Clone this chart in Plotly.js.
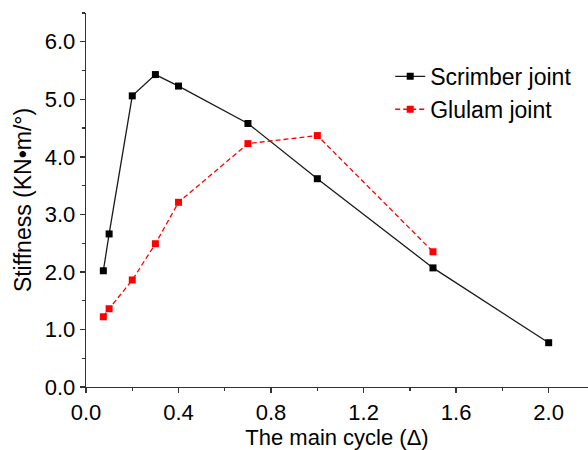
<!DOCTYPE html>
<html>
<head>
<meta charset="utf-8">
<script src="https://cdn.plot.ly/plotly-3.0.1.min.js"></script>
<style>html,body{margin:0;padding:0;background:#fff;}#chart{width:588px;height:450px;}</style>
</head>
<body>
<div id="chart"></div>
<script>
// Data
const cycle = [0.075, 0.1, 0.2, 0.3, 0.4, 0.7, 1.0, 1.5, 2.0];
const scrimberStiffness = [2.02, 2.66, 5.06, 5.43, 5.23, 4.58, 3.62, 2.07, 0.77];
const glulamCycle = [0.075, 0.1, 0.2, 0.3, 0.4, 0.7, 1.0, 1.5];
const glulamStiffness = [1.22, 1.36, 1.86, 2.49, 3.21, 4.23, 4.37, 2.35];
const seriesNames = ["Scrimber joint", "Glulam joint"];
const xTitle = "The main cycle (\u0394)";
const yTitle = "Stiffness (KN\u2022m/\u00b0)";

const font = "Liberation Sans, Arial, sans-serif";
const axisColor = "#333333";

const traces = [
  {
    x: cycle, y: scrimberStiffness, name: seriesNames[0],
    type: "scatter", mode: "lines+markers",
    line: {color: "#1a1a1a", width: 1.3},
    marker: {symbol: "square", size: 7, color: "#000000"}
  },
  {
    x: glulamCycle, y: glulamStiffness, name: seriesNames[1],
    type: "scatter", mode: "lines+markers",
    line: {color: "#ff0000", width: 1.3, dash: "5px,3px"},
    marker: {symbol: "square", size: 7, color: "#ff0000"}
  }
];

const layout = {
  width: 588, height: 450,
  margin: {l: 86, r: 0, t: 13, b: 63},
  paper_bgcolor: "#ffffff", plot_bgcolor: "#ffffff",
  font: {family: font, color: "#000000"},
  showlegend: true,
  legend: {
    x: 0.606, y: 0.888, xanchor: "left", yanchor: "top",
    font: {family: font, size: 23, color: "#000000"},
    bgcolor: "rgba(0,0,0,0)", tracegroupgap: 0
  },
  xaxis: {
    range: [0, 2.17], showgrid: false, zeroline: false,
    showline: true, linecolor: axisColor, linewidth: 1.3,
    ticks: "outside", ticklen: 5, tickwidth: 1.3, tickcolor: axisColor,
    tick0: 0, dtick: 0.4, tickformat: ".1f",
    tickfont: {family: font, size: 22, color: "#000000"},
    minor: {dtick: 0.2, ticks: "outside", ticklen: 3, tickwidth: 1.3, tickcolor: axisColor},
    title: {text: xTitle, font: {family: font, size: 22, color: "#000000"}, standoff: 4}
  },
  yaxis: {
    range: [0, 6.5], showgrid: false, zeroline: false,
    showline: true, linecolor: axisColor, linewidth: 1.3,
    ticks: "outside", ticklen: 5, tickwidth: 1.3, tickcolor: axisColor,
    tick0: 0, dtick: 1, tickformat: ".1f",
    tickfont: {family: font, size: 22, color: "#000000"},
    minor: {dtick: 0.5, ticks: "outside", ticklen: 3, tickwidth: 1.3, tickcolor: axisColor},
    title: {text: yTitle, font: {family: font, size: 23, color: "#000000"}, standoff: 6}
  }
};

Plotly.newPlot("chart", traces, layout, {displayModeBar: false, staticPlot: true});
</script>
</body>
</html>
